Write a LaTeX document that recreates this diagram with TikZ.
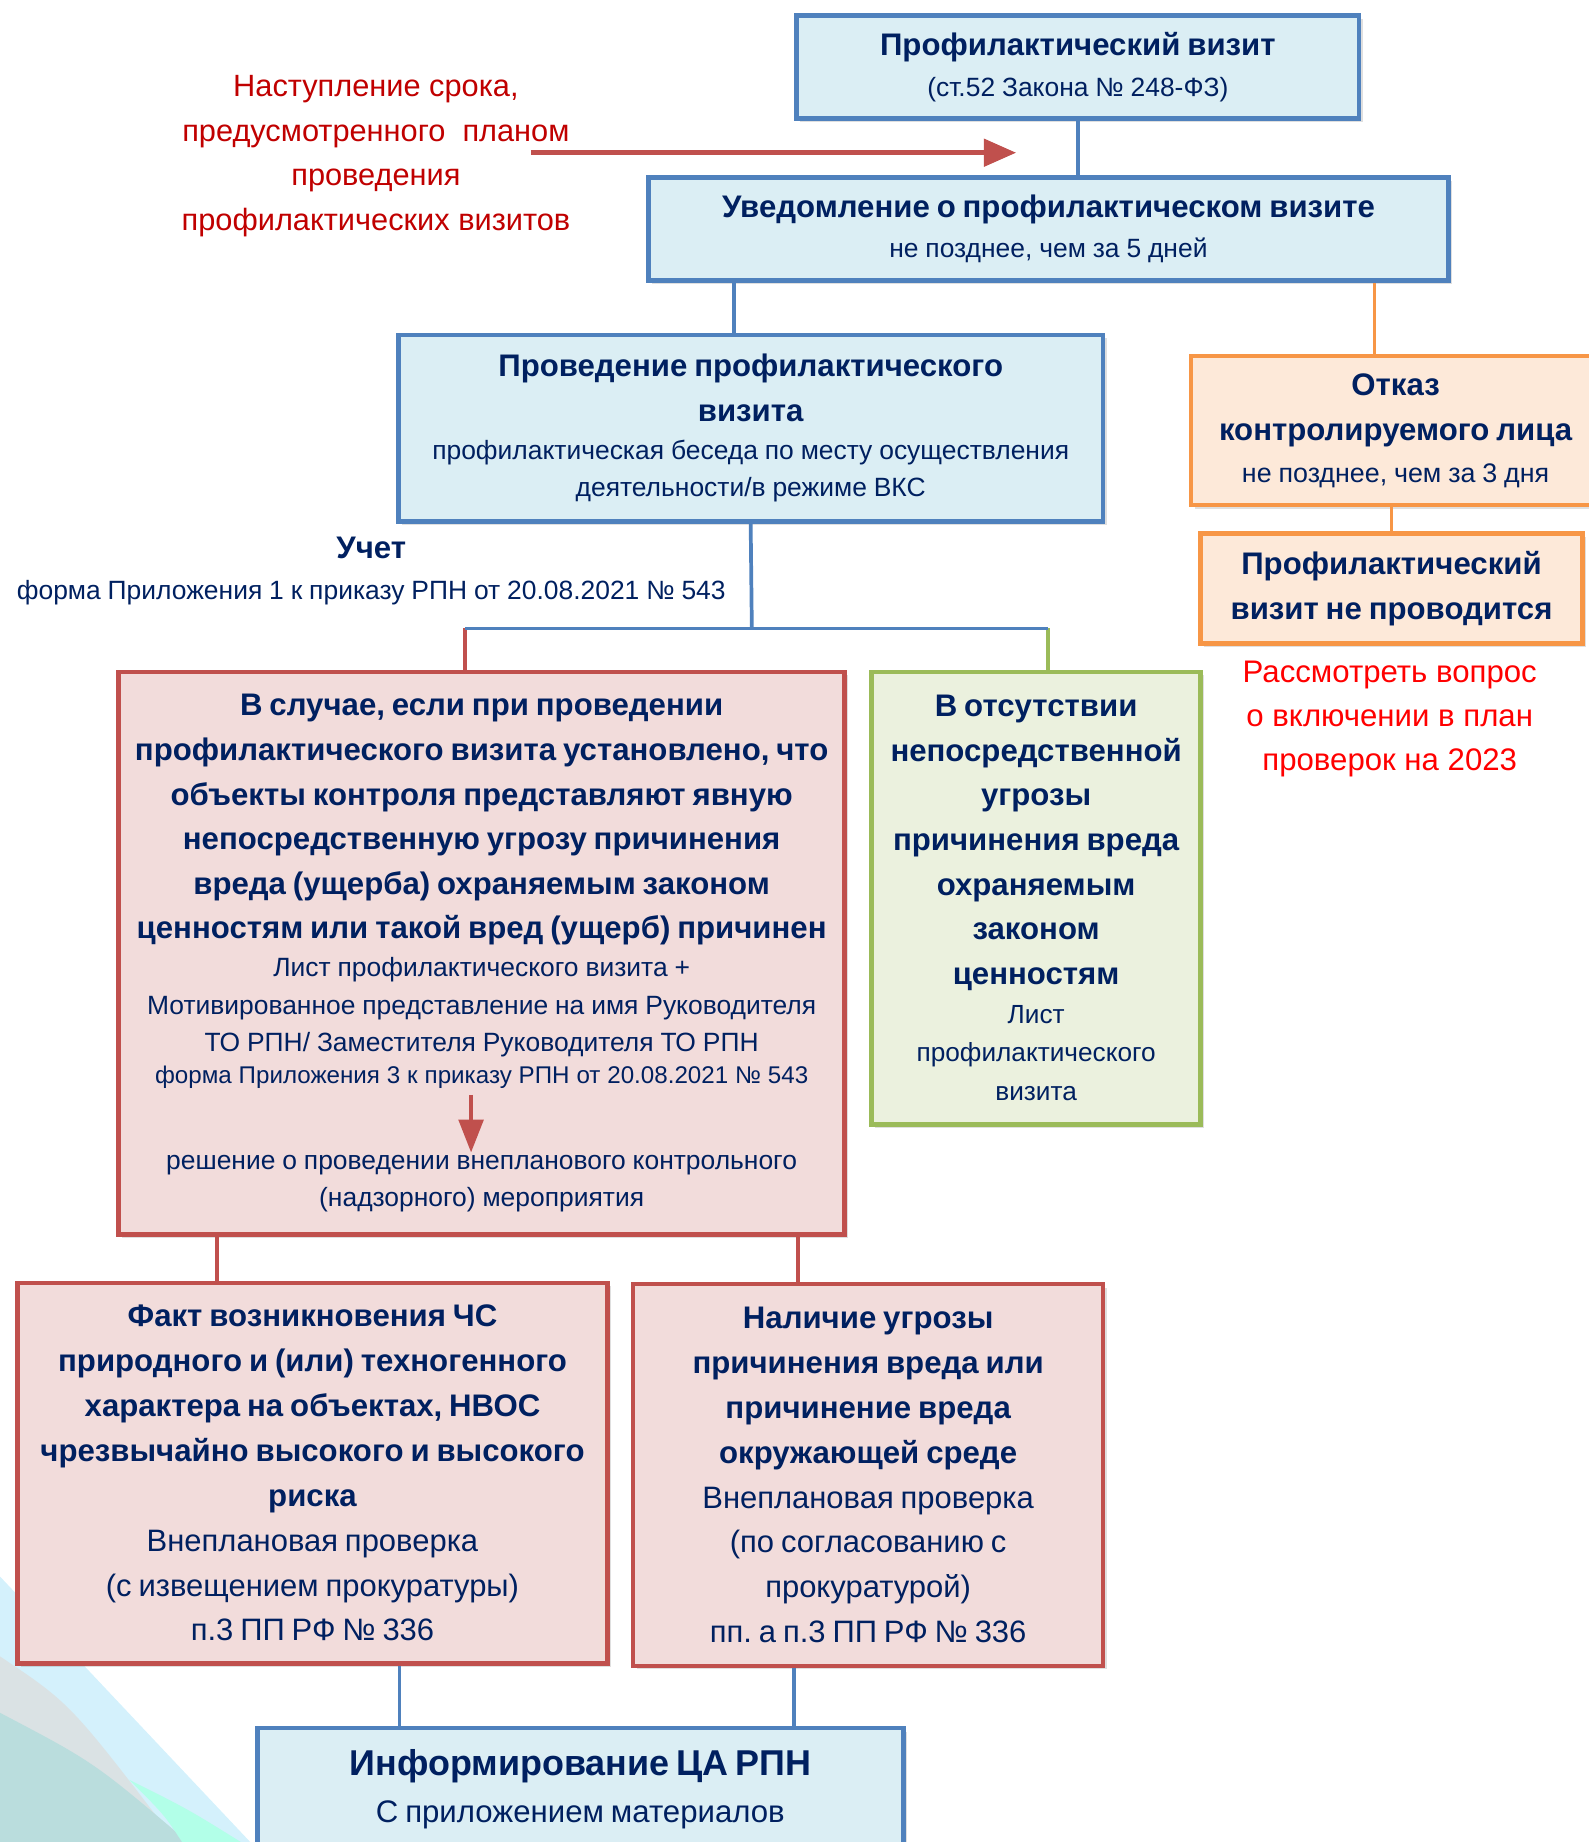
\documentclass[tikz,border=0pt]{standalone}
\usepackage{fontspec}
\setmainfont{Liberation Sans}
\frenchspacing
\usetikzlibrary{arrows.meta,shadows}
\definecolor{navy}{RGB}{0,32,96}
\definecolor{bdblue}{RGB}{79,129,189}
\definecolor{fblue}{RGB}{219,238,244}
\definecolor{bdred}{RGB}{192,80,77}
\definecolor{fred}{RGB}{242,220,219}
\definecolor{bdgreen}{RGB}{155,187,89}
\definecolor{fgreen}{RGB}{235,241,222}
\definecolor{bdorange}{RGB}{247,150,70}
\definecolor{forange}{RGB}{253,233,217}
\definecolor{darkred}{RGB}{192,0,0}
\newcommand\hdfont{\fontsize{15.1}{21.6}\selectfont\bfseries}
\newcommand\txfont{\fontsize{12.8}{18.2}\selectfont\mdseries}
\newcommand\smfont{\fontsize{11.7}{15.4}\selectfont\mdseries}
\newcommand\lgfont{\fontsize{15}{21.6}\selectfont\mdseries}
\tikzset{
  box/.style = {draw, line width=2.2pt, text=navy, align=center, inner sep=0pt,
    drop shadow={opacity=0.25, shadow xshift=0.6mm, shadow yshift=-0.6mm}},
  bluebox/.style = {box, draw=bdblue, fill=fblue},
  redbox/.style = {box, draw=bdred, fill=fred},
  greenbox/.style = {box, draw=bdgreen, fill=fgreen},
  orangebox/.style = {box, draw=bdorange, fill=forange},
  link/.style = {line width=1.8pt},
  redarrow/.style = {draw=bdred, line width=2.4pt, -{Triangle[length=5.5mm,width=4.6mm]}}
}

\begin{document}
\begin{tikzpicture}[x=0.2mm, y=-0.2mm]
  \useasboundingbox (0,0) rectangle (1352,1568);
  % background waves
  \fill[cyan!17] (0,1342) -- (213,1568) -- (0,1568) -- cycle;
  \fill[blue!20!cyan!15!gray!25] (0,1410) .. controls (60,1450) .. (150,1568) -- (0,1568) -- cycle;
  \fill[teal!27] (0,1458) .. controls (80,1500) .. (160,1568) -- (0,1568) -- cycle;
  \fill[green!30!cyan!30] (110,1515) .. controls (160,1540) .. (205,1568) -- (155,1568) .. controls (140,1545) .. (110,1515) -- cycle;

  % boxes
  \node[bluebox, minimum width=95.8mm, minimum height=17.6mm, text width=95.8mm] (b1) at (917.5,57)
    {\hdfont Профилактический визит\par
     \txfont\baselineskip=19.9pt (ст.52 Закона № 248-ФЗ)\par};
  \node[bluebox, minimum width=136.2mm, minimum height=17.6mm, text width=136.2mm] (b2) at (892.5,195)
    {\hdfont Уведомление о профилактическом визите\par
     \txfont\baselineskip=19.5pt не позднее, чем за 5 дней\par};
  \node[bluebox, minimum width=120mm, minimum height=31.8mm, text width=120mm] (b3) at (639,364.5)
    {\hdfont Проведение профилактического\\визита\par
     \txfont профилактическая беседа по месту осуществления\\деятельности/в режиме ВКС\par};
  \node[orangebox, minimum width=69.6mm, minimum height=25.4mm, text width=69.6mm] (o1) at (1188,366.5)
    {\hdfont\baselineskip=22pt Отказ\\контролируемого лица\par
     \fontsize{13}{20}\selectfont\mdseries не позднее, чем за 3 дня\par};
  \node[orangebox, minimum width=65mm, minimum height=18.8mm, text width=65mm] (o2) at (1184.5,501)
    {\hdfont\baselineskip=22pt Профилактический\\визит не проводится\par};
  \node[redbox, minimum width=123.6mm, minimum height=95.8mm, text width=123.6mm] (r1) at (410,811.5)
    {\hdfont В случае, если при проведении\\профилактического визита установлено, что\\
     объекты контроля представляют явную\\непосредственную угрозу причинения\\
     вреда (ущерба) охраняемым законом\\ценностям или такой вред (ущерб) причинен\par
     \txfont Лист профилактического визита +\\Мотивированное представление на имя Руководителя\\
     ТО РПН/ Заместителя Руководителя ТО РПН\par
     \smfont форма Приложения 3 к приказу РПН от 20.08.2021 № 543\par
     \txfont\vspace{8.2mm}решение о проведении внепланового контрольного\\(надзорного) мероприятия\par};
  \node[greenbox, minimum width=56mm, minimum height=77mm, text width=56mm] (g1) at (882,764.5)
    {\hdfont В отсутствии\\непосредственной\\угрозы\\причинения вреда\\охраняемым\\законом\\ценностям\par
     \fontsize{12.7}{18.8}\selectfont\mdseries Лист\\профилактического\\визита\par};
  \node[redbox, minimum width=100.4mm, minimum height=64.8mm, text width=100.4mm] (r2) at (266,1254)
    {\hdfont\baselineskip=21.8pt Факт возникновения ЧС\\природного и (или) техногенного\\
     характера на объектах, НВОС\\чрезвычайно высокого и высокого\\риска\par
     \lgfont Внеплановая проверка\\(с извещением прокуратуры)\\п.3 ПП РФ № 336\par};
  \node[redbox, minimum width=80mm, minimum height=65mm, text width=80mm] (r3) at (739,1255.5)
    {\hdfont\baselineskip=21.8pt Наличие угрозы\\причинения вреда или\\причинение вреда\\окружающей среде\par
     \lgfont Внеплановая проверка\\(по согласованию с\\прокуратурой)\\пп. а п.3 ПП РФ № 336\par};
  \node[bluebox, minimum width=110mm, minimum height=20.8mm, text width=110mm] (info) at (494,1523)
    {\fontsize{17.4}{24}\selectfont\bfseries Информирование ЦА РПН\par
     \fontsize{15.1}{22.8}\selectfont\mdseries С приложением материалов\par};

  % free texts
  \node[text=darkred, align=center, font=\fontsize{14.9}{21.6}\selectfont] (due) at (320,133)
    {Наступление срока,\\предусмотренного~ планом\\проведения\\профилактических визитов};
  \node[text=red, align=center, font=\fontsize{15.1}{21.3}\selectfont] (plan) at (1183,612)
    {Рассмотреть вопрос\\о включении в план\\проверок на 2023};
  \node[text=navy, align=center, text width=130mm, inner sep=0pt] (uchet) at (316,486)
    {\hdfont Учет\par
     \fontsize{12.8}{19.9}\selectfont\mdseries форма Приложения 1 к приказу РПН от 20.08.2021 № 543\par};

  % connectors
  \coordinate (fork) at (640,535);
  \coordinate (dueS) at (452,130);
  \coordinate (dueE) at (865,130);
  \coordinate (decS) at (401,932);
  \coordinate (decE) at (401,981);
  \draw[link, bdblue] (b1.south) -- (b1.south |- b2.north);
  \draw[link, bdblue] ([xshift=-2.8mm]b3.north) -- ([xshift=-2.8mm]b3.north |- b2.south);
  \draw[link, bdorange] ([xshift=-3.6mm]o1.north) -- ([xshift=-3.6mm]o1.north |- b2.south);
  \draw[link, bdorange] (o2.north) -- (o2.north |- o1.south);
  \draw[link, bdblue] (b3.south) -- (fork);
  \draw[link, bdred] ([xshift=-2.8mm]r1.north) -- ([xshift=-2.8mm]r1.north |- fork);
  \draw[link, bdgreen] ([xshift=2mm]g1.north) -- ([xshift=2mm]g1.north |- fork);
  \draw[link, bdblue] ([xshift=-2.8mm]r1.north |- fork) -- ([xshift=2mm]g1.north |- fork);
  \draw[link, bdred] ([xshift=-16.2mm]r2.north) -- ([xshift=-16.2mm]r2.north |- r1.south);
  \draw[link, bdred] ([xshift=-12mm]r3.north) -- ([xshift=-12mm]r3.north |- r1.south);
  \draw[link, bdblue] ([xshift=14.8mm]r2.south) -- ([xshift=14.8mm]r2.south |- info.north);
  \draw[link, bdblue] ([xshift=-12.6mm]r3.south) -- ([xshift=-12.6mm]r3.south |- info.north);
  \draw[redarrow] (dueS) -- (dueE);
  \draw[redarrow, line width=1.8pt, -{Triangle[length=5.6mm,width=4.2mm]}] (decS) -- (decE);
\end{tikzpicture}
\end{document}
